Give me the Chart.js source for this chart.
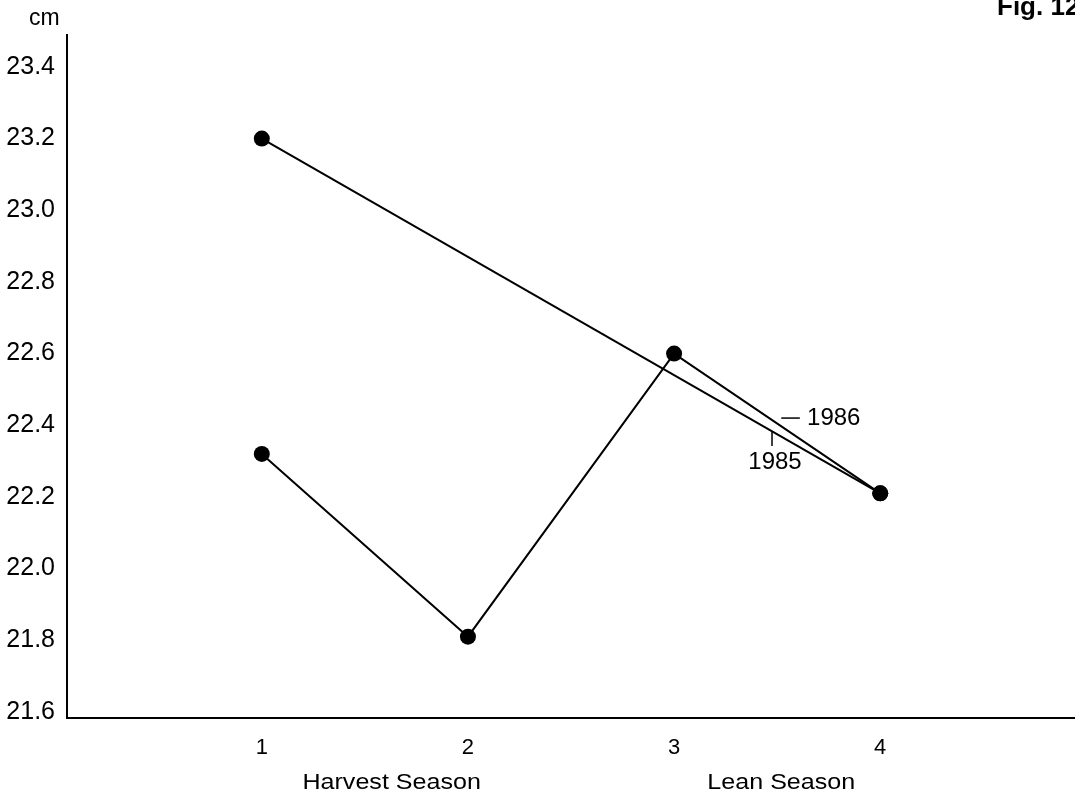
<!DOCTYPE html>
<html>
<head>
<meta charset="utf-8">
<script src="https://cdn.jsdelivr.net/npm/chart.js@4"></script>
<style>
  html, body { margin: 0; padding: 0; background: #fff; overflow: hidden; }
  #wrap { width: 1075px; height: 800px; position: relative; }
</style>
</head>
<body>
<div id="wrap"><canvas id="grafico"></canvas></div>
<script>
// Dados
const categorias = [1, 2, 3, 4];
const valores1985 = [23.2, null, null, 22.21];
const valores1986 = [22.32, 21.81, 22.6, 22.21];
const ticksY = [21.6, 21.8, 22.0, 22.2, 22.4, 22.6, 22.8, 23.0, 23.2, 23.4];
const ticksX = [1, 2, 3, 4];
const estacoes = [
  { texto: 'Harvest Season', centro: 1.63 },
  { texto: 'Lean Season', centro: 3.52 }
];

const fonte = '"Liberation Sans", Arial, sans-serif';

function pontos(valores) {
  return categorias.map((c, i) => ({ x: c, y: valores[i] }));
}

// Textos extras: cm, Fig. 12, estações e rótulos das séries
const textosExtras = {
  id: 'textosExtras',
  afterDraw(chart) {
    const ctx = chart.ctx;
    const x = chart.scales.x;
    const y = chart.scales.y;
    const area = chart.chartArea;
    ctx.save();
    ctx.fillStyle = '#000';
    ctx.strokeStyle = '#000';

    // eixo x vai até a borda direita
    ctx.lineWidth = 2;
    ctx.beginPath();
    ctx.moveTo(area.right - 1, area.bottom);
    ctx.lineTo(chart.width, area.bottom);
    ctx.stroke();

    ctx.textBaseline = 'middle';
    ctx.font = '23px ' + fonte;
    ctx.textAlign = 'left';
    ctx.fillText('cm', 29, 19);

    ctx.textBaseline = 'alphabetic';
    ctx.font = 'bold 26px ' + fonte;
    ctx.fillText('Fig. 12', 997, 15);

    // estações, texto um pouco esticado na horizontal como no original
    ctx.textBaseline = 'middle';
    ctx.font = '22px ' + fonte;
    ctx.textAlign = 'center';
    estacoes.forEach(e => {
      const cx = x.getPixelForValue(e.centro);
      ctx.save();
      ctx.translate(cx, 783);
      ctx.scale(1.14, 1);
      ctx.fillText(e.texto, 0, 0);
      ctx.restore();
    });

    // rótulo 1986 com traço
    ctx.font = '24px ' + fonte;
    ctx.lineWidth = 1.5;
    const yl = y.getPixelForValue(22.42);
    ctx.beginPath();
    ctx.moveTo(x.getPixelForValue(3.52), yl);
    ctx.lineTo(x.getPixelForValue(3.61), yl);
    ctx.stroke();
    ctx.textAlign = 'left';
    ctx.fillText('1986', x.getPixelForValue(3.645), yl);

    // rótulo 1985 com traço vertical
    const xv = x.getPixelForValue(3.475);
    ctx.beginPath();
    ctx.moveTo(xv, y.getPixelForValue(22.381));
    ctx.lineTo(xv, y.getPixelForValue(22.342));
    ctx.stroke();
    ctx.textAlign = 'center';
    ctx.fillText('1985', xv + 3, y.getPixelForValue(22.295));
    ctx.restore();
  }
};

const estiloSerie = {
  borderColor: '#000',
  backgroundColor: '#000',
  borderWidth: 2,
  pointRadius: 8,
  pointHoverRadius: 8,
  pointBackgroundColor: '#000',
  pointBorderWidth: 0,
  spanGaps: true,
  tension: 0
};

new Chart(document.getElementById('grafico'), {
  type: 'line',
  data: {
    datasets: [
      Object.assign({ label: '1985', data: pontos(valores1985) }, estiloSerie),
      Object.assign({ label: '1986', data: pontos(valores1986) }, estiloSerie)
    ]
  },
  options: {
    responsive: true,
    maintainAspectRatio: false,
    animation: false,
    layout: { padding: { top: 35, right: 0, left: 0, bottom: 0 } },
    plugins: {
      legend: { display: false },
      tooltip: { enabled: false }
    },
    scales: {
      x: {
        type: 'linear',
        min: 0.055,
        max: 4.906,
        afterBuildTicks: s => { s.ticks = ticksX.map(v => ({ value: v })); },
        afterFit: s => { s.height = 82; },
        grid: { display: false, drawTicks: false },
        border: { display: true, color: '#000', width: 2 },
        ticks: {
          color: '#000',
          font: { family: fonte, size: 22 },
          padding: 17,
          maxRotation: 0
        }
      },
      y: {
        min: 21.583,
        max: 23.489,
        afterBuildTicks: s => { s.ticks = ticksY.map(v => ({ value: v })); },
        afterFit: s => { s.width = 67; },
        grid: { display: false, drawTicks: false },
        border: { display: true, color: '#000', width: 2 },
        ticks: {
          color: '#000',
          font: { family: fonte, size: 25 },
          padding: 12,
          callback: v => v.toFixed(1)
        }
      }
    }
  },
  plugins: [textosExtras]
});
</script>
</body>
</html>
